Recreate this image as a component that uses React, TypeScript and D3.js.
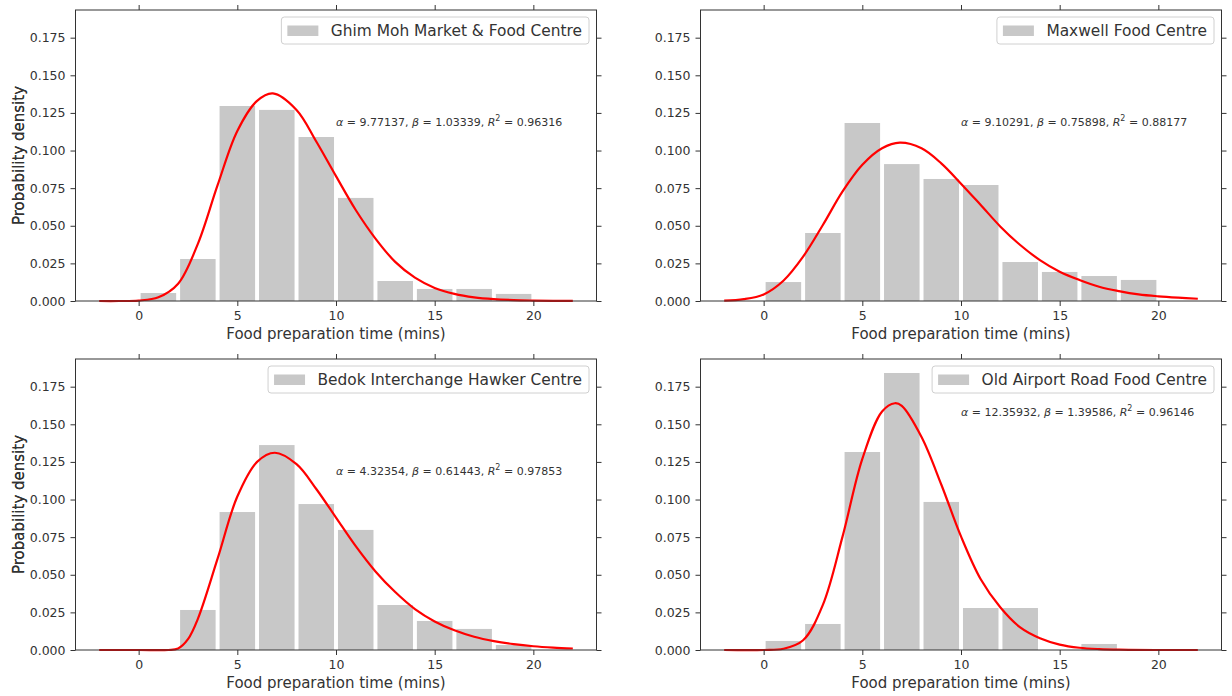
import React, { useEffect, useRef } from "react";
import * as d3 from "d3";

// histogram bins (2-minute wide) and densities
const centreNames = [
  "Ghim Moh Market & Food Centre",
  "Maxwell Food Centre",
  "Bedok Interchange Hawker Centre",
  "Old Airport Road Food Centre",
];
const binStarts = [0, 2, 4, 6, 8, 10, 12, 14, 16, 18];
const ghimMohDensity = [0.0053, 0.0279, 0.1296, 0.127, 0.109, 0.0685, 0.0133, 0.008, 0.008, 0.0047];
const maxwellDensity = [0.0126, 0.0452, 0.1183, 0.091, 0.0811, 0.0771, 0.0259, 0.0193, 0.0166, 0.014];
const bedokDensity = [0, 0.0266, 0.0917, 0.1362, 0.097, 0.0798, 0.0299, 0.0193, 0.014, 0.0033];
const oldAirportDensity = [0.006, 0.0173, 0.1316, 0.1841, 0.0984, 0.0279, 0.0279, 0, 0.004, 0];

// fitted curves, points
const ghimMohCurve = [
  [-2, 0], [-1, 0], [0, 0.0003], [1, 0.0025], [2, 0.0115], [3, 0.038], [4, 0.077],
  [5, 0.113], [6, 0.133], [6.8, 0.138], [8, 0.127], [9, 0.106], [10, 0.083],
  [11, 0.0605], [12, 0.0415], [13, 0.026], [14, 0.0155], [15, 0.0087], [16, 0.0047], [17, 0.0024],
  [18, 0.0012], [19, 0.0006], [20, 0.0003], [21, 0.0001], [22, 0.0001],
];
const maxwellCurve = [
  [-2, 0.0002], [-1, 0.0012], [0, 0.0044], [1, 0.0135], [2, 0.0295], [3, 0.0505], [4, 0.0728],
  [5, 0.0905], [6, 0.1015], [6.9, 0.1052], [8, 0.1015], [9, 0.0915], [10, 0.078], [11, 0.0638],
  [12, 0.0494], [13, 0.0372], [14, 0.0272], [15, 0.0195], [16, 0.014], [17, 0.0095], [18, 0.0066],
  [19, 0.0044], [20, 0.0031], [21, 0.0022], [22, 0.0015],
];
const bedokCurve = [
  [-2, 0], [0, 0], [1.5, 0], [2, 0.001], [2.5, 0.0072], [3, 0.0207], [4, 0.0607], [5, 0.102],
  [6, 0.125], [6.9, 0.1311], [8, 0.1235], [9, 0.107], [10, 0.088], [11, 0.069], [12, 0.0522],
  [13, 0.0385], [14, 0.0272], [15, 0.019], [16, 0.0131], [17, 0.0088], [18, 0.0059], [19, 0.0039],
  [20, 0.0025], [21, 0.0016], [22, 0.001],
];
const oldAirportCurve = [
  [-2, 0], [0, 0], [1, 0.0008], [2, 0.0065], [3, 0.03], [4, 0.0755], [5, 0.127], [6, 0.1585],
  [6.65, 0.164], [7, 0.1622], [8, 0.1415], [9, 0.11], [10, 0.0755], [11, 0.047], [12, 0.0282],
  [13, 0.015], [14, 0.0078], [15, 0.0036], [16, 0.0015], [17, 0.0006], [18, 0.0002], [20, 0], [22, 0],
];

const fitAlpha = ["9.77137", "9.10291", "4.32354", "12.35932"];
const fitBeta = ["1.03339", "0.75898", "0.61443", "1.39586"];
const fitR2 = ["0.96316", "0.88177", "0.97853", "0.96146"];

const xTicks = [0, 5, 10, 15, 20];
const yTicks = [0, 0.025, 0.05, 0.075, 0.1, 0.125, 0.15, 0.175];

const densities = [ghimMohDensity, maxwellDensity, bedokDensity, oldAirportDensity];
const curves = [ghimMohCurve, maxwellCurve, bedokCurve, oldAirportCurve];

const FONT = "'DejaVu Sans', sans-serif";
const INK = "#333333";
const PW = 521;
const PH = 291;
const origins = [
  [75.5, 10],
  [700.5, 10],
  [75.5, 359],
  [700.5, 359],
];
const annotY = [0.119, 0.119, 0.119, 0.158];

export default function App() {
  const ref = useRef<SVGSVGElement>(null);

  useEffect(() => {
    const svg = d3.select(ref.current);
    svg.selectAll("*").remove();

    const x = d3.scaleLinear().domain([-3.2, 23.2]).range([0, PW]);
    const y = d3.scaleLinear().domain([0, 0.1934]).range([PH, 0]);

    centreNames.forEach((name, i) => {
      const g = svg
        .append("g")
        .attr("transform", `translate(${origins[i][0]},${origins[i][1]})`);

      // bars, rwidth 0.9
      g.selectAll("rect.bar")
        .data(densities[i])
        .enter()
        .append("rect")
        .attr("class", "bar")
        .attr("x", (d, j) => x(binStarts[j] + 0.1))
        .attr("width", (d, j) => x(binStarts[j] + 1.9) - x(binStarts[j] + 0.1))
        .attr("y", (d) => y(d))
        .attr("height", (d) => PH - y(d))
        .attr("fill", "#c8c8c8");

      const line = d3
        .line<number[]>()
        .x((d) => x(d[0]))
        .y((d) => y(Math.max(0, d[1])))
        .curve(d3.curveCatmullRom.alpha(0.5));
      g.append("path")
        .attr("d", line(curves[i]))
        .attr("fill", "none")
        .attr("stroke", "#ff0000")
        .attr("stroke-width", 2.2);

      // axes
      const styleAxis = (sel) => {
        sel.select(".domain").remove();
        sel.selectAll("line").attr("stroke", INK).attr("stroke-width", 1);
        sel
          .selectAll("text")
          .attr("fill", INK)
          .style("font-family", FONT)
          .style("font-size", "12.5px");
      };
      g.append("g")
        .call(d3.axisLeft(y).tickValues(yTicks).tickFormat(d3.format(".3f")).tickSize(5).tickPadding(5))
        .call(styleAxis);
      g.append("g")
        .attr("transform", `translate(0,${PH})`)
        .call(d3.axisBottom(x).tickValues(xTicks).tickFormat(d3.format("d")).tickSize(5).tickPadding(5))
        .call(styleAxis);
      g.append("g")
        .attr("transform", `translate(${PW},0)`)
        .call(d3.axisRight(y).tickValues(yTicks).tickFormat(() => "").tickSize(5))
        .call(styleAxis);
      g.append("g")
        .call(d3.axisTop(x).tickValues(xTicks).tickFormat(() => "").tickSize(5))
        .call(styleAxis);

      g.append("rect")
        .attr("width", PW)
        .attr("height", PH)
        .attr("fill", "none")
        .attr("stroke", INK)
        .attr("stroke-width", 1);

      g.append("text")
        .text("Food preparation time (mins)")
        .attr("x", PW / 2)
        .attr("y", PH + 38)
        .attr("text-anchor", "middle")
        .attr("fill", INK)
        .style("font-family", FONT)
        .style("font-size", "15px");
      g.append("text")
        .text("Probability density")
        .attr("transform", `translate(${23.5 - origins[i][0]},${PH / 2}) rotate(-90)`)
        .attr("text-anchor", "middle")
        .attr("fill", INK)
        .style("font-family", FONT)
        .style("font-size", "15px");

      // fit annotation
      const ann = g
        .append("text")
        .attr("x", x(10))
        .attr("y", y(annotY[i]))
        .attr("dominant-baseline", "central")
        .attr("fill", INK)
        .style("font-family", FONT)
        .style("font-size", "11px");
      ann.append("tspan").text("α").style("font-style", "italic");
      ann.append("tspan").text(` = ${fitAlpha[i]}, `);
      ann.append("tspan").text("β").style("font-style", "italic");
      ann.append("tspan").text(` = ${fitBeta[i]}, `);
      ann.append("tspan").text("R").style("font-style", "italic");
      ann.append("tspan").text("2").attr("dy", -4).style("font-size", "8px");
      ann.append("tspan").text(` = ${fitR2[i]}`).attr("dy", 4);

      // legend
      const lg = g.append("g");
      const box = lg.append("rect");
      const label = lg
        .append("text")
        .text(name)
        .attr("dominant-baseline", "central")
        .attr("fill", INK)
        .style("font-family", FONT)
        .style("font-size", "15.4px");
      const tw = (label.node() as SVGTextElement).getComputedTextLength();
      const bw = 6 + 31 + 12.5 + tw + 7;
      const bx = PW - 7.5 - bw;
      const by = 7;
      box
        .attr("x", bx)
        .attr("y", by)
        .attr("width", bw)
        .attr("height", 27)
        .attr("rx", 3)
        .attr("fill", "white")
        .attr("fill-opacity", 0.8)
        .attr("stroke", "#d0d0d0")
        .attr("stroke-width", 1);
      lg.append("rect")
        .attr("x", bx + 6)
        .attr("y", by + 8.5)
        .attr("width", 31)
        .attr("height", 10.5)
        .attr("fill", "#c8c8c8");
      label.attr("x", bx + 6 + 31 + 12.5).attr("y", by + 14);
    });
  }, []);

  return (
    <svg
      ref={ref}
      width={1232}
      height={696}
      style={{ position: "absolute", left: 0, top: 0, background: "white" }}
    />
  );
}
